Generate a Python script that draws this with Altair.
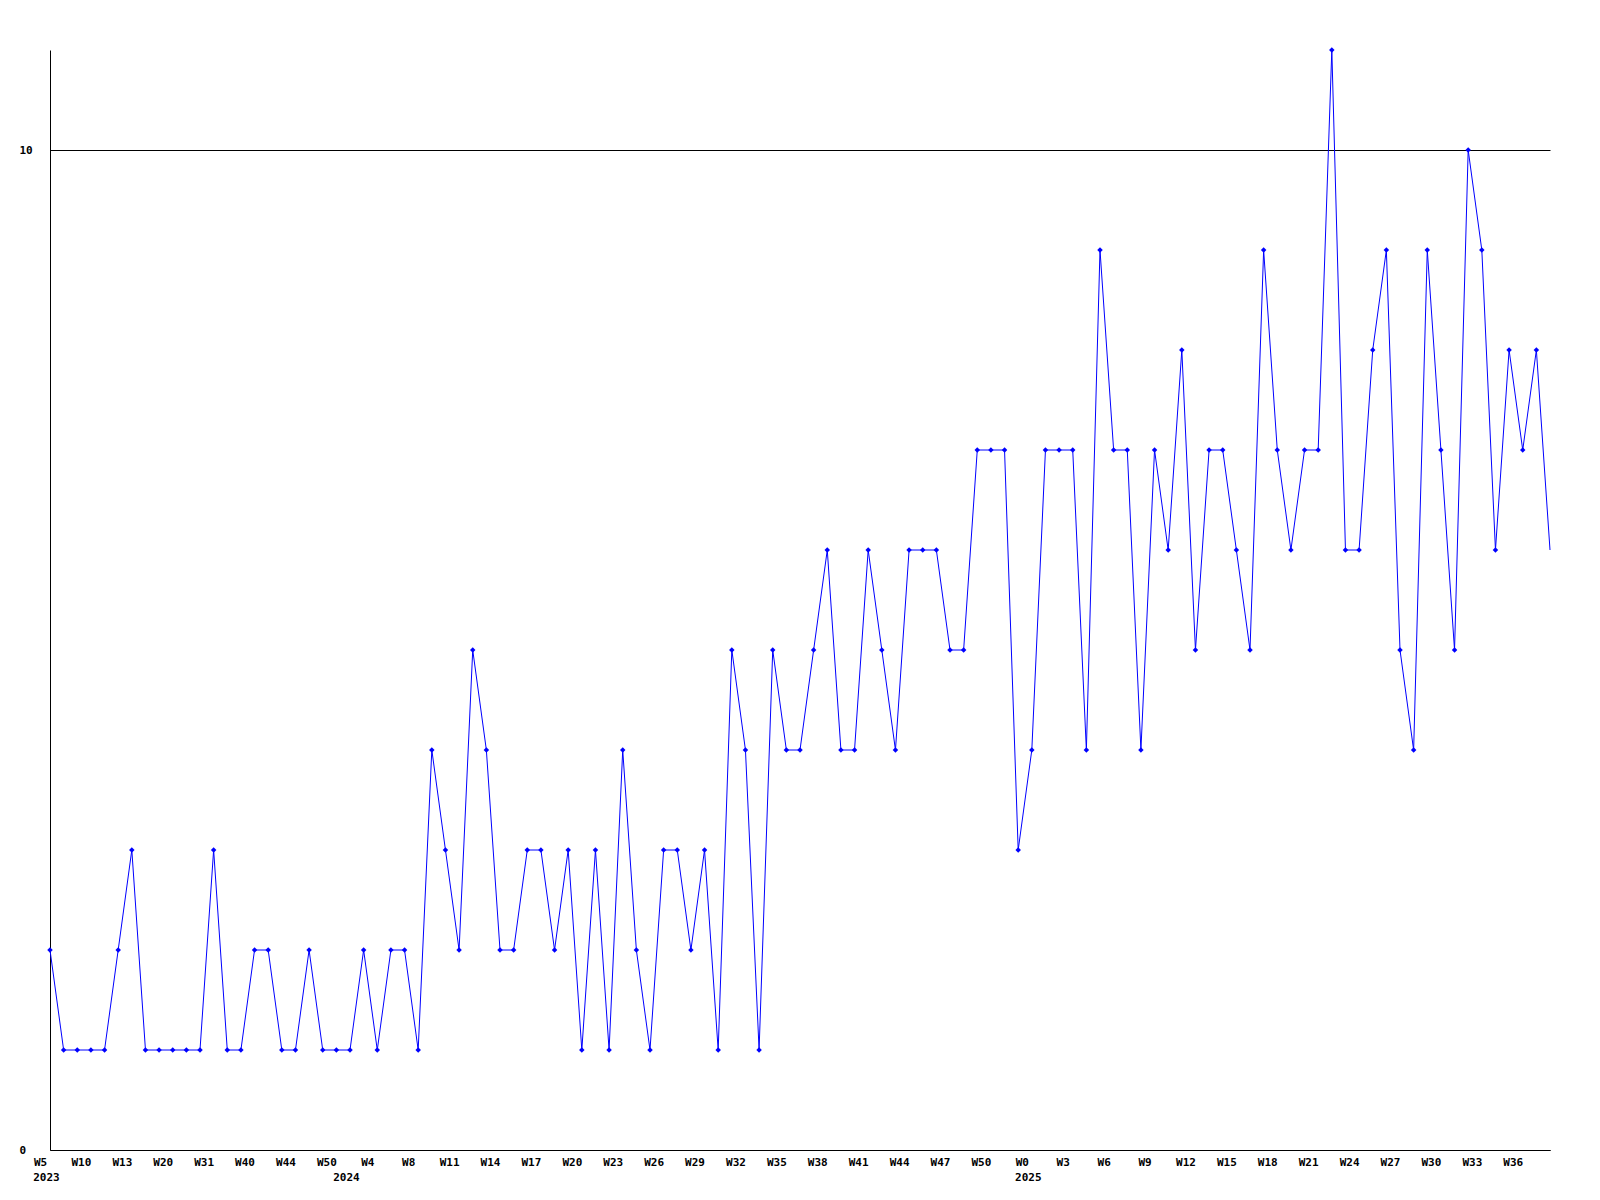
import altair as alt
import pandas as pd

# Weekly values (one per data point)
values = [2, 1, 1, 1, 1, 2, 3, 1, 1, 1,
          1, 1, 3, 1, 1, 2, 2, 1, 1, 2,
          1, 1, 1, 2, 1, 2, 2, 1, 4, 3,
          2, 5, 4, 2, 2, 3, 3, 2, 3, 1,
          3, 1, 4, 2, 1, 3, 3, 2, 3, 1,
          5, 4, 1, 5, 4, 4, 5, 6, 4, 4,
          6, 5, 4, 6, 6, 6, 5, 5, 7, 7,
          7, 3, 4, 7, 7, 7, 4, 9, 7, 7,
          4, 7, 6, 8, 5, 7, 7, 6, 5, 9,
          7, 6, 7, 7, 11, 6, 6, 8, 9, 5,
          4, 9, 7, 5, 10, 9, 6, 8, 7, 8, 6]

# Week tick labels (one every 3 data points)
week_labels = ["W5", "W10", "W13", "W20", "W31", "W40", "W44", "W50", "W4",
               "W8", "W11", "W14", "W17", "W20", "W23", "W26", "W29", "W32",
               "W35", "W38", "W41", "W44", "W47", "W50", "W0", "W3", "W6",
               "W9", "W12", "W15", "W18", "W21", "W24", "W27", "W30", "W33",
               "W36"]
label_step = 3

# Year labels and the data point where each year starts
years = ["2023", "2024", "2025"]
year_start = [0, 22, 72]

y_ticks = [0, 10]

df = pd.DataFrame({"i": list(range(len(values))), "v": values})

tick_idx = [k * label_step for k in range(len(week_labels))]
week_expr = "[" + ",".join("'%s'" % w for w in week_labels) + "][round(datum.value/%d)]" % label_step
year_expr = "''"
for yr, s in reversed(list(zip(years, year_start))):
    year_expr = "datum.value == %d ? '%s' : (%s)" % (s, yr, year_expr)

FONT = "DejaVu Sans Mono"

xscale = alt.Scale(domain=[0, len(values) - 1], nice=False, zero=False)
yscale = alt.Scale(domain=[0, 11], nice=False)

yaxis = alt.Axis(values=y_ticks, grid=True, gridColor="black", gridOpacity=1,
                 gridWidth=1, domainColor="black", domainWidth=1, ticks=False,
                 tickSize=0, labelAlign="left", labelPadding=31,
                 labelBaseline="middle", format="d", labelFont=FONT,
                 labelFontSize=11, labelFontWeight="bold", labelColor="black",
                 title=None)

week_axis = alt.Axis(values=tick_idx, labelExpr=week_expr, domain=True,
                     domainColor="black", domainWidth=1, ticks=False, tickSize=0,
                     grid=False, labelFont=FONT, labelFontSize=11,
                     labelFontWeight="bold", labelColor="black", labelPadding=6,
                     labelOffset=-10, labelOverlap=False, labelFlush=False,
                     orient="bottom", title=None)

year_axis = alt.Axis(values=year_start, labelExpr=year_expr, domain=False,
                     ticks=False, tickSize=0, grid=False, labelFont=FONT,
                     labelFontSize=11, labelFontWeight="bold", labelColor="black",
                     labelPadding=21, labelOffset=-4, labelOverlap=False,
                     labelFlush=False, orient="bottom", title=None)

line = alt.Chart(df).mark_line(color="#0000ff", strokeWidth=1).encode(
    x=alt.X("i:Q", scale=xscale, axis=week_axis),
    y=alt.Y("v:Q", scale=yscale, axis=yaxis),
)

points = alt.Chart(df).transform_filter(
    alt.datum.i < len(values) - 1
).mark_point(shape="diamond", filled=True, color="#0000ff", size=30, opacity=1).encode(
    x=alt.X("i:Q", scale=xscale, axis=year_axis),
    y=alt.Y("v:Q", scale=yscale, axis=yaxis),
)

chart = alt.layer(line, points).resolve_axis(x="independent").properties(
    width=1500,
    height=1100,
    autosize=alt.AutoSizeParams(type="none"),
    padding={"left": 42, "top": 42, "right": 40, "bottom": 60},
    background="white",
).configure_view(stroke=None)

chart.save("out.html", embed_options={"renderer": "svg", "actions": False})
